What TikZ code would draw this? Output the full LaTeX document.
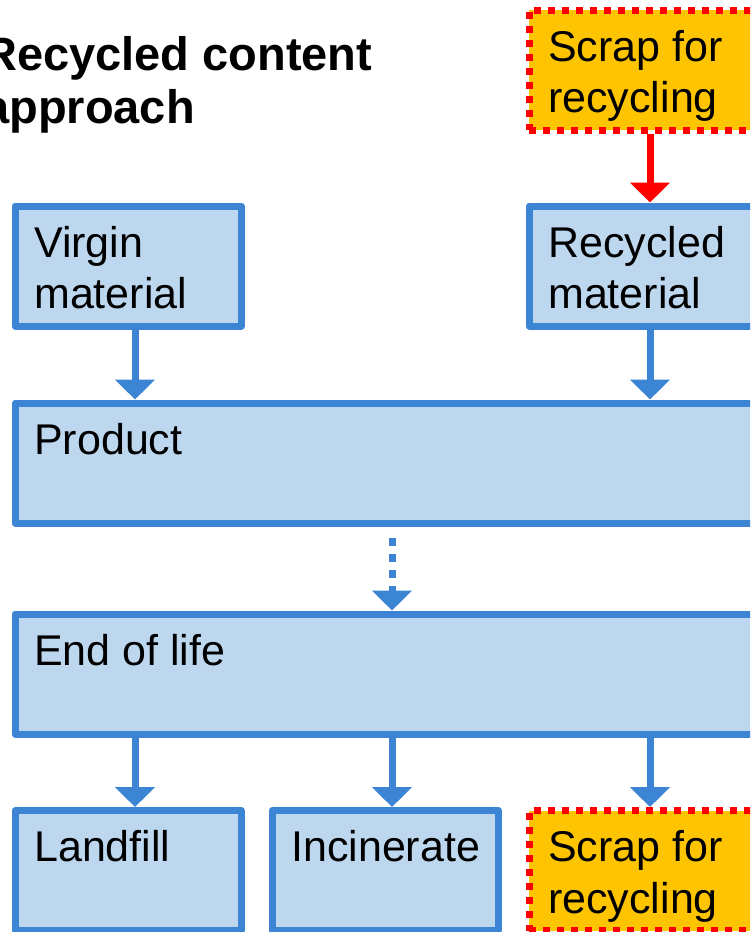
\documentclass[tikz,border=0pt]{standalone}
\usepackage{fontspec}
\setmainfont{Liberation Sans}
\usetikzlibrary{arrows.meta,calc}
\definecolor{bborder}{RGB}{60,132,212}
\definecolor{bfill}{RGB}{189,215,238}
\definecolor{sfill}{RGB}{255,196,0}
\definecolor{sred}{RGB}{255,0,0}
\begin{document}
\begin{tikzpicture}[x=1pt,y=-1pt,
  box/.style={rectangle, draw=bborder, fill=bfill, line width=7pt, line join=round, inner sep=0pt},
  scrapbox/.style={rectangle, draw=sred, fill=sfill, line width=7pt, dash pattern=on 7pt off 7pt, inner sep=0pt},
  smallbox/.style={minimum width=226pt, minimum height=120pt},
  widebox/.style={minimum width=740pt, minimum height=120pt},
  txt/.style={font=\fontsize{43}{51.5}\selectfont, anchor=base west, align=left, inner sep=0pt},
  titletxt/.style={font=\fontsize{47}{53}\selectfont\bfseries, anchor=base west, align=left, inner sep=0pt},
  arr/.style={draw=bborder, line width=7pt, -{Triangle[width=39pt,length=20pt]}},
  redarr/.style={draw=sred, line width=7pt, -{Triangle[width=39pt,length=20pt]}},
  dotarr/.style={arr, dash pattern=on 7.5pt off 8.5pt, dash phase=7.5pt}]
\useasboundingbox (0,0) rectangle (750,932);
\clip (0,0) rectangle (750,932);
\fill[white] (0,0) rectangle (750,932);

% title (base anchor = baseline of the last line)
\node[titletxt] (title) at (-17,123) {Recycled content\\approach};

% boxes
\node[scrapbox, smallbox] (scrapt) at (642,70) {};
\node[box, smallbox] (virgin) at (128,266) {};
\node[box, smallbox] (recyc) at (642,266) {};
\node[box, widebox] (product) at (385,463) {};
\node[box, widebox] (eol) at (385,674) {};
\node[box, smallbox] (landfill) at (128,870.5) {};
\node[box, smallbox] (incin) at (385,870.5) {};
\node[scrapbox, smallbox] (scrapb) at (642,870.5) {};

% texts
\node[txt] (scrapt-t) at ([shift={(22.5,106)}]scrapt.north west) {Scrap for\\recycling};
\node[txt] (virgin-t) at ([shift={(22.5,106)}]virgin.north west) {Virgin\\material};
\node[txt] (recyc-t) at ([shift={(22.5,106)}]recyc.north west) {Recycled\\material};
\node[txt] (product-t) at ([shift={(22.5,54.5)}]product.north west) {Product};
\node[txt] (eol-t) at ([shift={(22.5,54.5)}]eol.north west) {End of life};
\node[txt] (landfill-t) at ([shift={(22.5,54.5)}]landfill.north west) {Landfill};
\node[txt] (incin-t) at ([shift={(22.5,54.5)}]incin.north west) {Incinerate};
\node[txt] (scrapb-t) at ([shift={(22.5,106)}]scrapb.north west) {Scrap for\\recycling};

% connectors
\draw[redarr] ([xshift=8pt]scrapt.south) -- ([xshift=8pt]scrapt.south |- recyc.north);
\draw[arr] ([xshift=7pt]virgin.south) -- ([xshift=7pt]virgin.south |- product.north);
\draw[arr] ([xshift=8pt]recyc.south) -- ([xshift=8pt]recyc.south |- product.north);
\draw[dotarr] ([xshift=7pt,yshift=-3pt]product.south) -- ([xshift=7pt]product.south |- eol.north);
\draw[arr] ([xshift=7pt]landfill.north |- eol.south) -- ([xshift=7pt]landfill.north);
\draw[arr] ([xshift=7pt]incin.north |- eol.south) -- ([xshift=7pt]incin.north);
\draw[arr] ([xshift=8pt]scrapb.north |- eol.south) -- ([xshift=8pt]scrapb.north);
\end{tikzpicture}
\end{document}
